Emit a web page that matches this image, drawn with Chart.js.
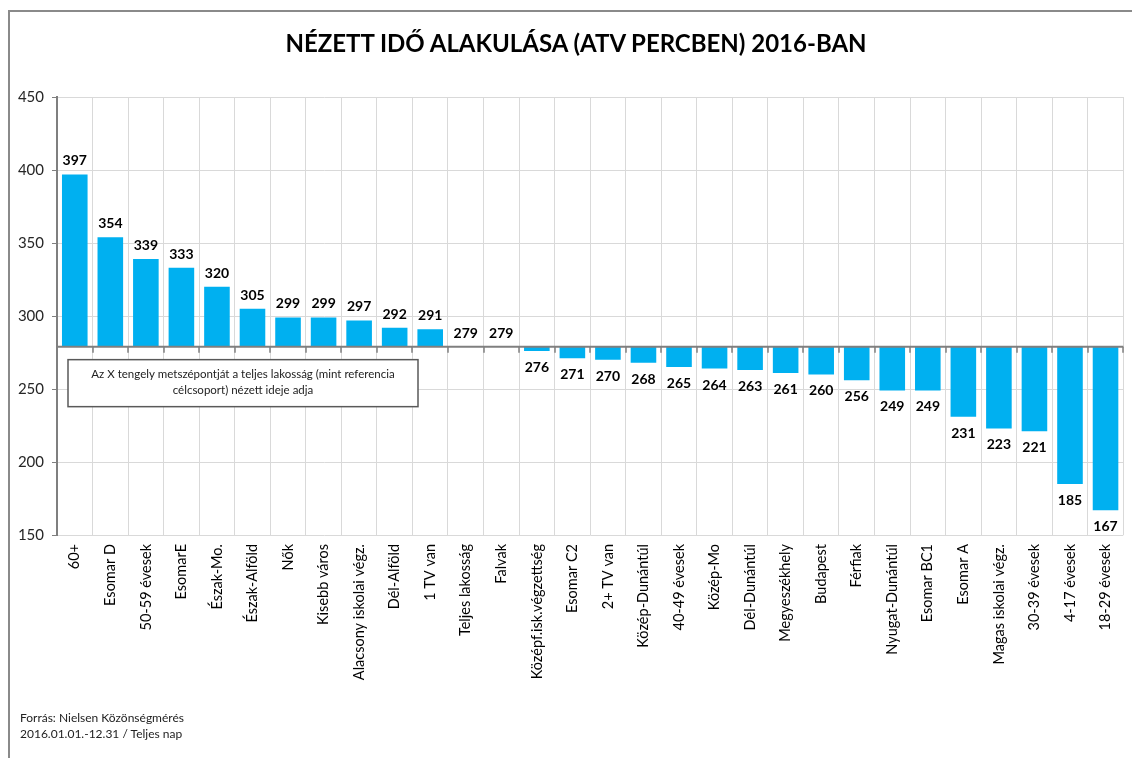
<!DOCTYPE html>
<html>
<head>
<meta charset="utf-8">
<script src="https://cdn.jsdelivr.net/npm/chart.js@4.4.0/dist/chart.umd.min.js"></script>
<style>
  html, body { margin: 0; padding: 0; background: #fff; }
  #wrap { position: relative; width: 1132px; height: 758px; overflow: hidden; font-family: Lato, "Open Sans", sans-serif; }
  #frame { position: absolute; left: 8px; top: 10px; right: -2px; bottom: -2px; border-left: 2px solid #8a8a8a; border-top: 2px solid #8a8a8a; }
  #title { position: absolute; left: 10px; width: 1132px; top: 28px; text-align: center; font-weight: bold; font-size: 24px; color: #000; }
  #source { position: absolute; left: 20px; top: 710px; font-size: 12px; line-height: 16px; color: #222; }
  canvas { position: absolute; left: 0; top: 0; }
</style>
</head>
<body>
<div id="wrap">
  <div id="frame"></div>
  <canvas id="chart" width="1132" height="758"></canvas>
  <div id="title">NÉZETT IDŐ ALAKULÁSA (ATV PERCBEN) 2016-BAN</div>
  <div id="source">Forrás: Nielsen Közönségmérés<br>2016.01.01.-12.31 / Teljes nap</div>
</div>
<script>
// data
var categories = ['60+', 'Esomar D', '50-59 évesek', 'EsomarE', 'Észak-Mo.', 'Észak-Alföld', 'Nők',
    'Kisebb város', 'Alacsony iskolai végz.', 'Dél-Alföld', '1 TV van', 'Teljes lakosság', 'Falvak',
    'Középf.isk.végzettség', 'Esomar C2', '2+ TV van', 'Közép-Dunántúl', '40-49 évesek', 'Közép-Mo',
    'Dél-Dunántúl', 'Megyeszékhely', 'Budapest', 'Férfiak', 'Nyugat-Dunántúl', 'Esomar BC1',
    'Esomar A', 'Magas iskolai végz.', '30-39 évesek', '4-17 évesek', '18-29 évesek'];
var minutes = [397, 354, 339, 333, 320, 305, 299, 299, 297, 292, 291, 279, 279, 276, 271, 270,
    268, 265, 264, 263, 261, 260, 256, 249, 249, 231, 223, 221, 185, 167];
var baseline = 279;   // teljes lakosság, ahol az X tengely metszi
var yMin = 150, yMax = 450, yStep = 50;
var noteLines = ['Az X tengely metszépontját a teljes lakosság (mint referencia', 'célcsoport) nézett ideje adja'];

var FONT = 'Lato, "Open Sans", sans-serif';

// X tengely a 279-es értéknél, osztásjelekkel
var baseAxis = {
    id: 'baseAxis',
    afterDatasetsDraw: function(chart) {
        var ctx = chart.ctx, a = chart.chartArea;
        var y = chart.scales.y.getPixelForValue(baseline);
        var n = categories.length, w = (a.right - a.left) / n;
        ctx.save();
        ctx.strokeStyle = '#7f7f7f';
        ctx.lineWidth = 2;
        ctx.beginPath();
        ctx.moveTo(a.left, y);
        ctx.lineTo(a.right, y);
        ctx.stroke();
        ctx.lineWidth = 1.5;
        for (var i = 1; i <= n; i++) {
            var x = Math.round(a.left + i * w);
            ctx.beginPath();
            ctx.moveTo(x, y);
            ctx.lineTo(x, y + 6);
            ctx.stroke();
        }
        ctx.restore();
    }
};

// értékcímkék
var valueLabels = {
    id: 'valueLabels',
    afterDatasetsDraw: function(chart) {
        var ctx = chart.ctx;
        var meta = chart.getDatasetMeta(0);
        ctx.save();
        ctx.font = 'bold 14px ' + FONT;
        ctx.fillStyle = '#000';
        ctx.textAlign = 'center';
        ctx.textBaseline = 'alphabetic';
        meta.data.forEach(function(bar, i) {
            var v = minutes[i];
            if (v >= baseline) {
                ctx.fillText(v, bar.x, bar.y - 9);
            } else {
                ctx.fillText(v, bar.x, bar.y + 21);
            }
        });
        ctx.restore();
    }
};

// magyarázó doboz
var noteBox = {
    id: 'noteBox',
    afterDraw: function(chart) {
        var ctx = chart.ctx, a = chart.chartArea;
        var y0 = chart.scales.y.getPixelForValue(baseline) + 13;
        var x0 = a.left + 11, w = 350, h = 47;
        ctx.save();
        ctx.fillStyle = '#fff';
        ctx.fillRect(x0, y0, w, h);
        ctx.strokeStyle = '#595959';
        ctx.lineWidth = 1.5;
        ctx.strokeRect(x0, y0, w, h);
        ctx.fillStyle = '#222';
        ctx.font = '11.5px ' + FONT;
        ctx.textAlign = 'center';
        ctx.textBaseline = 'middle';
        ctx.fillText(noteLines[0], x0 + w / 2, y0 + 15);
        ctx.fillText(noteLines[1], x0 + w / 2, y0 + 31);
        ctx.restore();
    }
};

var ctx = document.getElementById('chart').getContext('2d');
var myChart = new Chart(ctx, {
    type: 'bar',
    data: {
        labels: categories,
        datasets: [{
            data: minutes,
            base: baseline,
            backgroundColor: '#00b0f0',
            barPercentage: 0.72,
            categoryPercentage: 1.0
        }]
    },
    options: {
        responsive: false,
        animation: false,
        layout: { padding: { left: 9, right: 4, top: 97, bottom: 0 } },
        plugins: {
            legend: { display: false },
            tooltip: { enabled: false }
        },
        scales: {
            x: {
                afterFit: function(s) { s.height = 223; },
                grid: { color: '#d9d9d9', offset: true, drawTicks: false },
                border: { display: false },
                ticks: {
                    autoSkip: false, maxRotation: 90, minRotation: 90, padding: 9,
                    color: '#000', font: { family: FONT, size: 14.5 }
                }
            },
            y: {
                min: yMin,
                max: yMax,
                afterFit: function(s) { s.width = 48; },
                grid: { color: '#d9d9d9', tickColor: '#7f7f7f', tickLength: 5 },
                border: { color: '#7f7f7f', width: 2 },
                ticks: {
                    stepSize: yStep, padding: 8,
                    color: '#262626', font: { family: FONT, size: 15 }
                }
            }
        }
    },
    plugins: [baseAxis, valueLabels, noteBox]
});
</script>
</body>
</html>
